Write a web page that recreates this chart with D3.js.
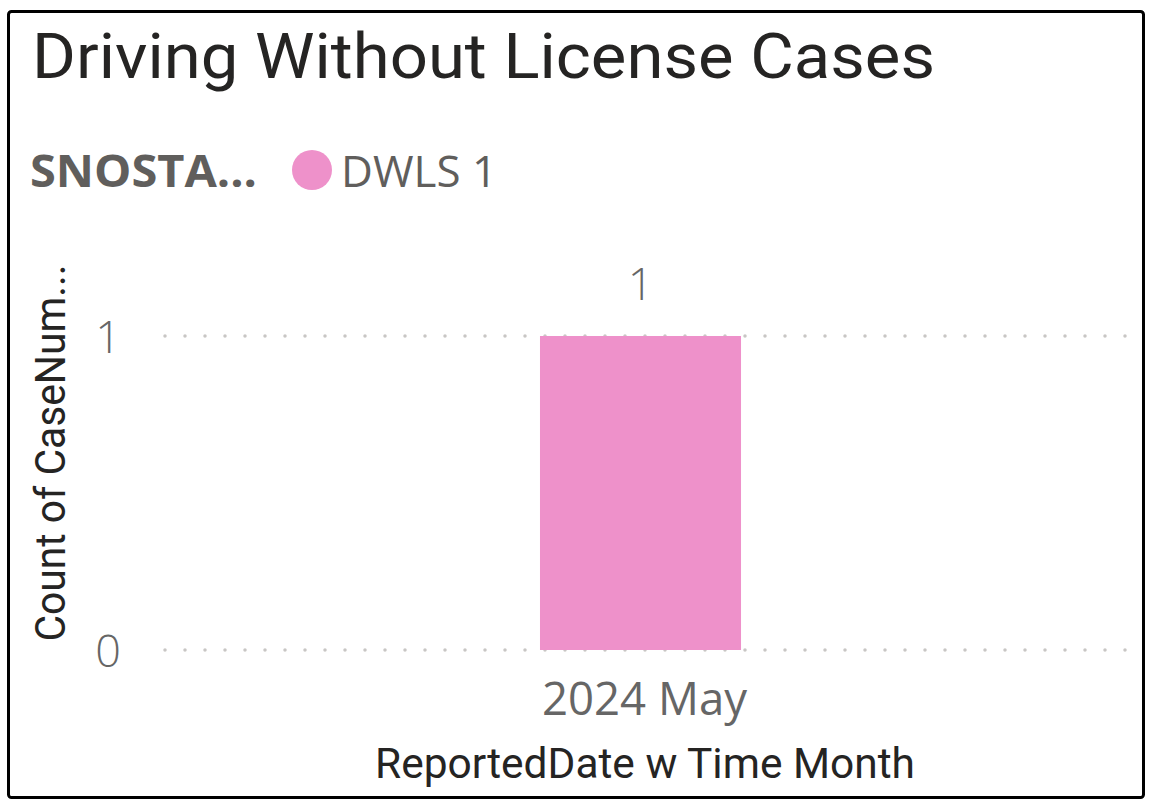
<html>
<head>
  <script src="https://cdn.jsdelivr.net/npm/d3@7"></script>
  <meta charset="UTF-8">
  <style>
  body { margin: 0; background: #fff; }
  svg text { font-family: "Open Sans", sans-serif; }
  .din { font-family: Roboto, "DejaVu Sans", sans-serif; }
  </style>
</head>
<body>
<div id="chart"></div>
<script>
// data
const months = ['2024 May'];
const counts = [1];
const yTicks = [0, 1];
const seriesName = 'DWLS 1';
const legendTitle = 'SNOSTA...';

const W = 1153, H = 804;
const svg = d3.select('#chart').append('svg')
  .attr('width', W).attr('height', H);

// frame
svg.append('rect')
  .attr('x', 8.5).attr('y', 11.5)
  .attr('width', 1135).attr('height', 786)
  .attr('rx', 3)
  .attr('fill', '#fff')
  .attr('stroke', '#000')
  .attr('stroke-width', 3);

svg.append('text').attr('class', 'din')
  .attr('x', 32).attr('y', 78)
  .attr('font-size', 63)
  .attr('textLength', 903).attr('lengthAdjust', 'spacingAndGlyphs')
  .attr('fill', '#252423')
  .text('Driving Without License Cases');

// legend
svg.append('text')
  .attr('x', 30).attr('y', 187)
  .attr('font-size', 44).attr('font-weight', 'bold')
  .attr('textLength', 227).attr('lengthAdjust', 'spacingAndGlyphs')
  .attr('fill', '#605E5C')
  .text(legendTitle);
svg.append('circle')
  .attr('cx', 312).attr('cy', 170).attr('r', 20)
  .attr('fill', '#EE91CA');
svg.append('text')
  .attr('x', 341).attr('y', 187)
  .attr('font-size', 44)
  .attr('textLength', 156).attr('lengthAdjust', 'spacingAndGlyphs')
  .attr('fill', '#605E5C')
  .text(seriesName);

// scales
const x = d3.scaleBand().domain(months).range([158, 1123])
  .paddingInner(0).paddingOuter(1.9);
const y = d3.scaleLinear().domain([0, 1]).range([650, 336]);

// dotted gridlines
svg.append('g').selectAll('line')
  .data(yTicks)
  .join('line')
    .attr('x1', 165).attr('x2', 1128)
    .attr('y1', d => y(d)).attr('y2', d => y(d))
    .attr('stroke', '#C8C6C4')
    .attr('stroke-width', 3.5)
    .attr('stroke-linecap', 'round')
    .attr('stroke-dasharray', '0 20');

// y axis labels
const yAxis = svg.append('g')
  .attr('transform', 'translate(121,0)')
  .call(d3.axisLeft(y).tickValues(yTicks).tickSize(0).tickPadding(0).tickFormat(d3.format('d')));
yAxis.select('.domain').remove();
yAxis.selectAll('text')
  .attr('font-family', '"Open Sans", sans-serif')
  .attr('font-size', 45)
  .attr('font-weight', 300)
  .attr('fill', '#666')
  .attr('dy', '0.36em');

// bars
svg.append('g').selectAll('rect')
  .data(months)
  .join('rect')
    .attr('x', d => x(d))
    .attr('y', (d, i) => y(counts[i]))
    .attr('width', x.bandwidth())
    .attr('height', (d, i) => y(0) - y(counts[i]))
    .attr('fill', '#EE91CA');

// data labels
svg.append('g').selectAll('text')
  .data(months)
  .join('text')
    .attr('x', d => x(d) + x.bandwidth() / 2)
    .attr('y', (d, i) => y(counts[i]) - 36)
    .attr('text-anchor', 'middle')
    .attr('font-size', 45)
    .attr('font-weight', 300)
    .attr('fill', '#666')
    .text((d, i) => counts[i]);

// x axis
const xAxis = svg.append('g')
  .attr('transform', 'translate(4,' + 715 + ')')
  .call(d3.axisBottom(x).tickSize(0).tickPadding(0));
xAxis.select('.domain').remove();
xAxis.selectAll('text')
  .attr('font-family', '"Open Sans", sans-serif')
  .attr('font-size', 45)
  .attr('fill', '#666')
  .attr('dy', 0)
  .attr('textLength', 205).attr('lengthAdjust', 'spacingAndGlyphs');

// axis titles
svg.append('text').attr('class', 'din')
  .attr('x', 645).attr('y', 778)
  .attr('text-anchor', 'middle')
  .attr('font-size', 42)
  .attr('textLength', 540).attr('lengthAdjust', 'spacingAndGlyphs')
  .attr('fill', '#252423')
  .text('ReportedDate w Time Month');

svg.append('text').attr('class', 'din')
  .attr('transform', 'translate(65,453) rotate(-90)')
  .attr('text-anchor', 'middle')
  .attr('font-size', 42)
  .attr('textLength', 377).attr('lengthAdjust', 'spacingAndGlyphs')
  .attr('fill', '#252423')
  .text('Count of CaseNum...');
</script>
</body>
</html>
